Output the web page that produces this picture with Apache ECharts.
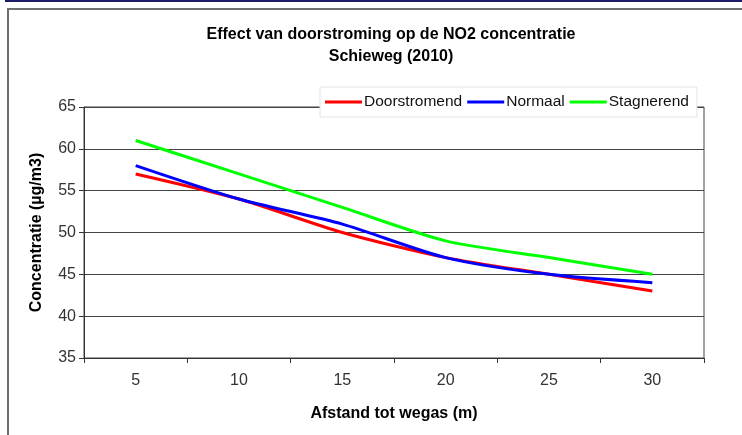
<!DOCTYPE html>
<html>
<head>
<meta charset="utf-8">
<script src="https://cdn.jsdelivr.net/npm/echarts@6/dist/echarts.min.js"></script>
<style>
  html, body { margin: 0; padding: 0; background: #fff; overflow: hidden; }
  #topbar { position: absolute; left: 5px; top: 0; width: 760px; height: 2px; background: #1c1c66; }
  #frame { position: absolute; left: 7px; top: 8px; width: 800px; height: 500px;
           border-left: 2px solid #6e6e6e; border-top: 2px solid #6e6e6e; box-sizing: border-box; }
  #chart { position: absolute; left: 0; top: 0; width: 742px; height: 435px; }
</style>
</head>
<body>
<div id="topbar"></div>
<div id="frame"></div>
<div id="chart"></div>
<script>
// Afstand tot de wegas (m)
const afstanden = ['5', '10', '15', '20', '25', '30'];

// NO2-concentratie (µg/m3) per doorstromingsklasse
const doorstromend = [57, 54, 50, 47, 45, 43];
const normaal      = [58, 54, 51, 47, 45, 44];
const stagnerend   = [61, 57, 53, 49, 47, 45];

const reeksen = [
  { naam: 'Doorstromend', data: doorstromend, kleur: '#ff0000' },
  { naam: 'Normaal',      data: normaal,      kleur: '#0000ff' },
  { naam: 'Stagnerend',   data: stagnerend,   kleur: '#00ff00' }
];

const chart = echarts.init(document.getElementById('chart'), null, { renderer: 'canvas' });

const font = 'Liberation Sans, Arial, sans-serif';

chart.setOption({
  backgroundColor: 'transparent',
  animation: false,
  title: [
    {
      text: 'Effect van doorstroming op de NO2 concentratie',
      left: 386, top: 22, textAlign: 'center',
      textStyle: { fontFamily: font, fontSize: 16, fontWeight: 'bold', color: '#000' }
    },
    {
      text: 'Schieweg (2010)',
      left: 386, top: 44, textAlign: 'center',
      textStyle: { fontFamily: font, fontSize: 16, fontWeight: 'bold', color: '#000' }
    }
  ],
  legend: {
    left: 320, top: 87, height: 30,
    padding: [7, 8, 7, 5],
    itemGap: 5,
    itemWidth: 37, itemHeight: 3,
    backgroundColor: '#fff',
    borderColor: '#e4e4e4', borderWidth: 1,
    icon: 'rect',
    textStyle: { fontFamily: font, fontSize: 15.5, color: '#111', padding: [0, 0, 0, -3] },
    data: reeksen.map(r => r.naam)
  },
  grid: {
    left: 84, top: 107, width: 620, height: 251,
    show: true, borderColor: '#444', borderWidth: 1, backgroundColor: 'transparent'
  },
  xAxis: {
    type: 'category',
    data: afstanden,
    boundaryGap: true,
    name: 'Afstand tot wegas (m)',
    nameLocation: 'middle', nameGap: 48,
    nameTextStyle: { fontFamily: font, fontSize: 16, fontWeight: 'bold', color: '#000' },
    axisLine: { lineStyle: { color: '#333', width: 1 } },
    axisTick: { show: true, length: 5, inside: false, alignWithLabel: false, lineStyle: { color: '#333' } },
    axisLabel: { fontFamily: font, fontSize: 16, color: '#333', margin: 15 }
  },
  yAxis: {
    type: 'value',
    min: 35, max: 65, interval: 5,
    name: 'Concentratie (µg/m3)',
    nameLocation: 'middle', nameGap: 39,
    nameTextStyle: { fontFamily: font, fontSize: 16, fontWeight: 'bold', color: '#000' },
    axisLine: { show: true, lineStyle: { color: '#333', width: 1 } },
    axisTick: { show: true, length: 5, lineStyle: { color: '#333' } },
    axisLabel: { fontFamily: font, fontSize: 16, color: '#333', margin: 8 },
    splitLine: { show: true, lineStyle: { color: '#444', width: 1.2 } }
  },
  series: reeksen.map(r => ({
    name: r.naam,
    type: 'line',
    data: r.data,
    smooth: 0.25,
    symbol: 'none',
    color: r.kleur,
    lineStyle: { color: r.kleur, width: 3 }
  }))
});
</script>
</body>
</html>
